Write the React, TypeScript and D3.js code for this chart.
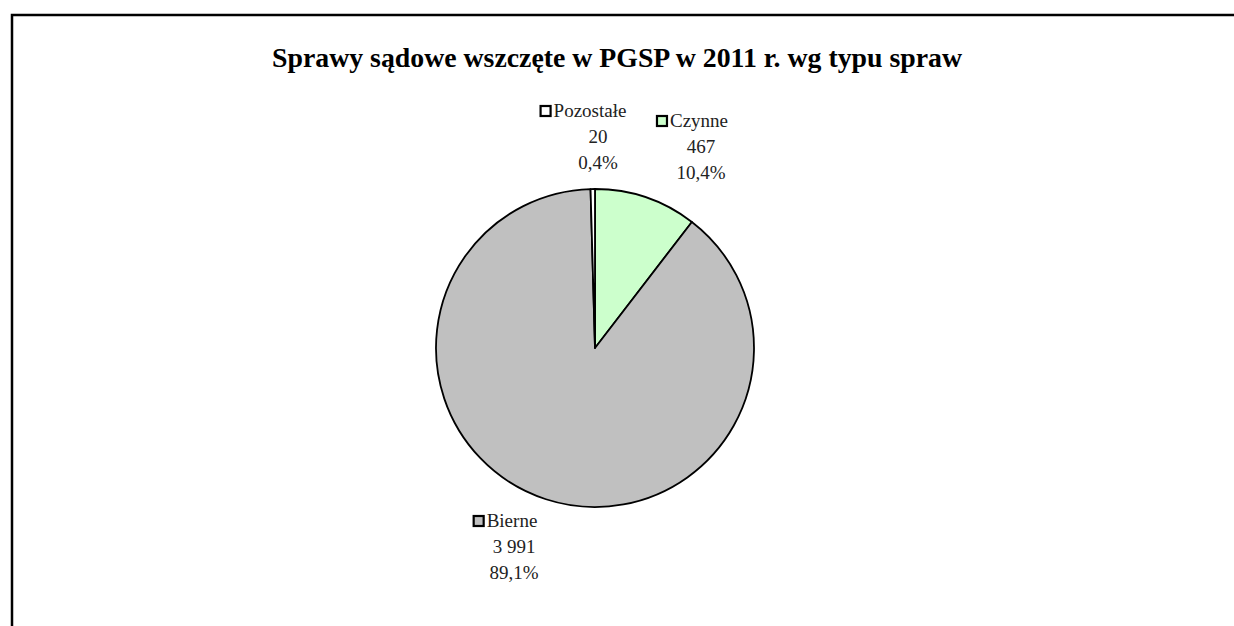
import React, { useEffect, useRef } from 'react';
import * as d3 from 'd3';

interface Slice {
  name: string;
  value: number;
  label: string;
  pct: string;
  color: string;
}

const categories = ['Czynne', 'Bierne', 'Pozostałe'];
const values = [467, 3991, 20];
const valueLabels = ['467', '3 991', '20'];
const pctLabels = ['10,4%', '89,1%', '0,4%'];
const colors = ['#CCFFCC', '#C0C0C0', '#FFFFFF'];

const data: Slice[] = categories.map((name, i) => ({
  name,
  value: values[i],
  label: valueLabels[i],
  pct: pctLabels[i],
  color: colors[i],
}));

const W = 1234;
const H = 626;
const FONT = "'Liberation Serif', 'DejaVu Serif', serif";

// label anchor: centre x of number lines, baseline of first line, shift of first line
const labelPos: Record<string, [number, number, number]> = {
  Czynne: [701, 127, -9],
  Bierne: [514, 527, -9],
  'Pozostałe': [598, 117, -15],
};

const App = () => {
  const ref = useRef<SVGSVGElement>(null);

  useEffect(() => {
    const svg = d3.select(ref.current);
    svg.selectAll('*').remove();

    svg
      .append('rect')
      .attr('x', 12)
      .attr('y', 15)
      .attr('width', W + 20)
      .attr('height', H + 20)
      .attr('fill', '#fff')
      .attr('stroke', '#000')
      .attr('stroke-width', 2.5);

    svg
      .append('text')
      .attr('x', 617)
      .attr('y', 67)
      .attr('text-anchor', 'middle')
      .attr('font-family', FONT)
      .attr('font-weight', 'bold')
      .attr('font-size', 27.8)
      .text('Sprawy sądowe wszczęte w PGSP w 2011 r. wg typu spraw');

    const cx = 595;
    const cy = 348;
    const r = 159;

    const pie = d3
      .pie<Slice>()
      .value(d => d.value)
      .sort(null);
    const arc = d3.arc<d3.PieArcDatum<Slice>>().innerRadius(0).outerRadius(r);

    const g = svg.append('g').attr('transform', `translate(${cx},${cy})`);
    g.selectAll('path')
      .data(pie(data))
      .enter()
      .append('path')
      .attr('d', arc)
      .attr('fill', d => d.data.color)
      .attr('stroke', '#000')
      .attr('stroke-width', 1.8)
      .attr('stroke-linejoin', 'round');

    data.forEach(d => {
      const [lx, ly, shift] = labelPos[d.name];
      const lg = svg.append('g');
      const t = lg
        .append('text')
        .attr('y', ly)
        .attr('font-family', FONT)
        .attr('font-size', 19)
        .attr('fill', '#222')
        .text(d.name);
      const w = (t.node() as SVGTextElement).getComputedTextLength();
      const lineW = 11 + 3 + w;
      const x0 = lx + shift - lineW / 2;
      t.attr('x', x0 + 14);
      lg.append('rect')
        .attr('x', x0 + 1)
        .attr('y', ly - 11)
        .attr('width', 10)
        .attr('height', 10)
        .attr('fill', d.color)
        .attr('stroke', '#000')
        .attr('stroke-width', 2.2);
      [d.label, d.pct].forEach((s, i) => {
        lg.append('text')
          .attr('x', lx)
          .attr('y', ly + 26 * (i + 1))
          .attr('text-anchor', 'middle')
          .attr('font-family', FONT)
          .attr('font-size', 19)
          .attr('fill', '#222')
          .text(s);
      });
    });
  }, []);

  return (
    <svg
      ref={ref}
      width={W}
      height={H}
      style={{ position: 'absolute', left: 0, top: 0, background: '#fff' }}
    ></svg>
  );
};

export default App;
